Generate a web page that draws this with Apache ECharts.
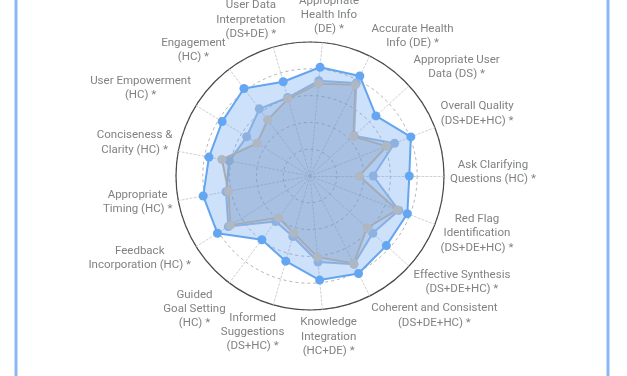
<!DOCTYPE html>
<html>
<head>
<meta charset="utf-8">
<script src="https://cdn.jsdelivr.net/npm/echarts@6/dist/echarts.min.js"></script>
<style>
html,body{margin:0;padding:0;background:#fff;}
#chart{width:627px;height:376px;}
</style>
</head>
<body>
<div id="chart"></div>
<script>
// Categories in clockwise order, starting at the top axis
var categories = [
  'Appropriate\nHealth Info\n(DE) *',
  'Accurate Health\nInfo (DE) *',
  'Appropriate User\nData (DS) *',
  'Overall Quality\n(DS+DE+HC) *',
  'Ask Clarifying\nQuestions (HC) *',
  'Red Flag\nIdentification\n(DS+DE+HC) *',
  'Effective Synthesis\n(DS+DE+HC) *',
  'Coherent and Consistent\n(DS+DE+HC) *',
  'Knowledge\nIntegration\n(HC+DE) *',
  'Informed\nSuggestions\n(DS+HC) *',
  'Guided\nGoal Setting\n(HC) *',
  'Feedback\nIncorporation (HC) *',
  'Appropriate\nTiming (HC) *',
  'Conciseness &\nClarity (HC) *',
  'User Empowerment\n(HC) *',
  'Engagement\n(HC) *',
  'User Data\nInterpretation\n(DS+DE) *'
];
var seriesBlue = [0.815, 0.834, 0.666, 0.807, 0.741, 0.779, 0.771, 0.813, 0.780, 0.661, 0.596, 0.812, 0.811, 0.767, 0.771, 0.818, 0.731];
var seriesMid  = [0.714, 0.775, 0.445, 0.677, 0.472, 0.711, 0.634, 0.736, 0.645, 0.470, 0.425, 0.717, 0.638, 0.613, 0.556, 0.628, 0.609];
var seriesGray = [0.694, 0.760, 0.440, 0.615, 0.368, 0.700, 0.576, 0.730, 0.609, 0.444, 0.390, 0.700, 0.620, 0.669, 0.465, 0.525, 0.600];

var N = categories.length;
var CX = 310, CY = 176, R = 134;
var STEP = 360 / N;
var RIGHT_INDEX = 4; // axis pointing to the right (0 deg)
// echarts radar goes counter-clockwise from startAngle; build that order
var order = [];
for (var k = 0; k < N; k++) order.push((RIGHT_INDEX - k + N) % N);
function reorder(arr) { return order.map(function (i) { return arr[i]; }); }

var indicators = reorder(categories).map(function (c) { return { name: c, min: 0, max: 1 }; });

// label placement: anchor just outside the ring, block shifted away smoothly by angle
var FONT_SIZE = 11.5, LINE_H = 14.3, GAP = 6;
var ctx = document.createElement('canvas').getContext('2d');
ctx.font = FONT_SIZE + 'px Roboto';
var POLAR_MAX = 1.7;
function clamp(v) { return Math.max(-1, Math.min(1, v)); }
var labelData = categories.map(function (c, i) {
  var ang = (RIGHT_INDEX - i) * STEP;
  var rad = ang * Math.PI / 180;
  var lines = c.split('\n');
  var w = 0;
  lines.forEach(function (l) { w = Math.max(w, ctx.measureText(l).width); });
  var hw = w / 2, hh = lines.length * LINE_H / 2;
  var cs = Math.cos(rad), sn = Math.sin(rad);
  var ax = CX + (R + GAP) * cs, ay = CY - (R + GAP) * sn;
  var lx = ax + hw * clamp(cs * 2.2);
  var ly = ay + hh * clamp(-1.6 * sn - 0.25);
  var dx = lx - CX, dy = CY - ly;
  var r = Math.sqrt(dx * dx + dy * dy) / R;
  var a = Math.atan2(dy, dx) * 180 / Math.PI;
  a = (a + 360) % 360;
  return { value: [r, a], name: c };
});

var chart = echarts.init(document.getElementById('chart'), null, { renderer: 'canvas' });
var radarBase = {
  center: [CX, CY],
  radius: R,
  startAngle: 0,
  shape: 'circle',
  splitNumber: 5,
  indicator: indicators,
  axisName: { show: false },
  splitArea: { show: false }
};
var option = {
  backgroundColor: '#ffffff',
  animation: false,
  radar: [
    Object.assign({}, radarBase, {
      axisLine: { lineStyle: { color: '#c4c4c4', type: [2, 2], width: 0.8 } },
      splitLine: { lineStyle: { color: '#a0a0a0', type: [3, 3], width: 0.8 } }
    }),
    Object.assign({}, radarBase, {
      splitNumber: 1,
      axisLine: { show: false },
      splitLine: { lineStyle: { color: '#4a4a4a', width: 1.2 } }
    })
  ],
  polar: { center: [CX, CY], radius: R * POLAR_MAX },
  angleAxis: { type: 'value', min: 0, max: 360, startAngle: 0, clockwise: false, show: false },
  radiusAxis: { type: 'value', min: 0, max: POLAR_MAX, show: false },
  graphic: [{
    type: 'rect', silent: true,
    shape: { x: 16, y: -20, width: 592, height: 420 },
    style: { fill: 'none', stroke: '#8ab8f6', lineWidth: 3 }
  }],
  series: [
    {
      type: 'radar', radarIndex: 0, z: 2,
      symbol: 'circle', symbolSize: 9,
      lineStyle: { color: '#64a5f0', width: 2 },
      itemStyle: { color: '#64a6f1' },
      areaStyle: { color: 'rgba(100,165,240,0.32)', opacity: 1 },
      data: [{ name: 'Series A', value: reorder(seriesBlue) }]
    },
    {
      type: 'radar', radarIndex: 0, z: 3,
      symbol: 'circle', symbolSize: 9,
      lineStyle: { color: '#8fb3e3', width: 2 },
      itemStyle: { color: '#8db2e2' },
      areaStyle: { color: 'rgba(100,150,220,0.26)', opacity: 1 },
      data: [{ name: 'Series B', value: reorder(seriesMid) }]
    },
    {
      type: 'radar', radarIndex: 0, z: 4,
      symbol: 'circle', symbolSize: 9,
      lineStyle: { color: '#a9b0bb', width: 2 },
      itemStyle: { color: '#afb7c2' },
      areaStyle: { color: 'rgba(130,140,160,0.2)', opacity: 1 },
      data: [{ name: 'Series C', value: reorder(seriesGray) }]
    },
    {
      type: 'scatter', coordinateSystem: 'polar', silent: true, clip: false,
      symbolSize: 1, itemStyle: { color: 'rgba(0,0,0,0)' },
      label: {
        show: true, position: 'inside', align: 'center', verticalAlign: 'middle',
        fontFamily: 'Roboto', fontSize: FONT_SIZE, lineHeight: LINE_H, color: '#5f6164',
        formatter: function (p) { return p.name; }
      },
      emphasis: { disabled: true },
      data: labelData
    }
  ]
};
chart.setOption(option);
</script>
</body>
</html>
